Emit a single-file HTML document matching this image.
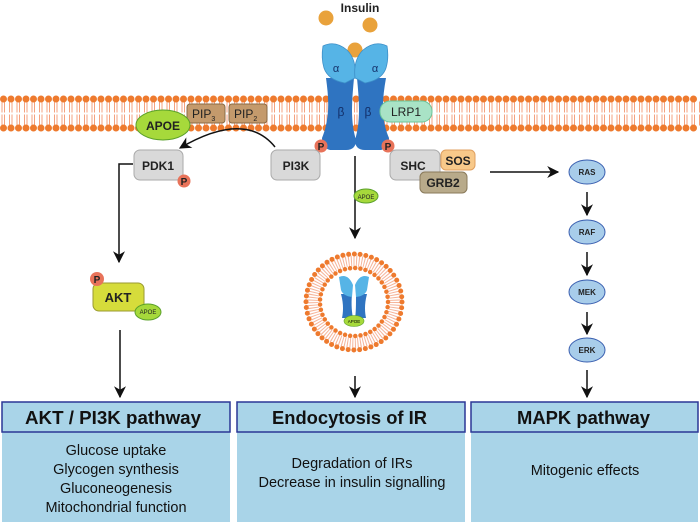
<!DOCTYPE html>
<html><head><meta charset="utf-8"><style>
body{margin:0;background:#fff}
svg{display:block;font-family:"Liberation Sans",Arial,sans-serif}
</style></head><body>
<svg width="700" height="524" viewBox="0 0 700 524" xmlns="http://www.w3.org/2000/svg">
<defs>
<marker id="ah" viewBox="0 0 10 10" refX="9" refY="5" markerWidth="12" markerHeight="12" markerUnits="userSpaceOnUse" orient="auto"><path d="M0,0 L10,5 L0,10 L3,5z" fill="#111"/></marker>
</defs>
<!-- membrane -->
<line x1="0" y1="107" x2="700" y2="107" stroke="#f4a27f" stroke-width="11" stroke-dasharray="1 1.5 1 4" stroke-dashoffset="-1.5"/>
<line x1="0" y1="120" x2="700" y2="120" stroke="#f4a27f" stroke-width="11" stroke-dasharray="1 1.5 1 4" stroke-dashoffset="-1.5"/>
<line x1="3.5" y1="99" x2="700" y2="99" stroke="#ee7a2e" stroke-width="7" stroke-linecap="round" stroke-dasharray="0 7.5"/>
<line x1="3.5" y1="128" x2="700" y2="128" stroke="#ee7a2e" stroke-width="7" stroke-linecap="round" stroke-dasharray="0 7.5"/>
<!-- insulin -->
<text x="360" y="12" font-size="12" font-weight="bold" fill="#222" text-anchor="middle">Insulin</text>
<circle cx="326" cy="18" r="7.5" fill="#e9a23b"/>
<circle cx="370" cy="25" r="7.5" fill="#e9a23b"/>
<circle cx="355" cy="50" r="7.5" fill="#e9a23b"/>
<!-- receptor beta -->
<path d="M326,78 H354 C352,100 350,120 356,140 Q356,150 346,150 H330 Q322,148 322,138 C330,118 329,100 326,78Z" fill="#2f74c1"/>
<path d="M357,78 H386 C382,100 381,120 389,138 Q389,148 381,150 H365 Q355,150 355,140 C361,120 359,100 357,78Z" fill="#2f74c1"/>
<!-- alpha -->
<path d="M323,46 Q335,40 347,50 Q357,60 355,78 L345,83 Q328,80 324,68 Q321,58 323,46Z" fill="#56b4e6" stroke="#3d8fc8" stroke-width="0.8"/>
<path d="M387,46 Q375,40 363,50 Q353,60 355,78 L365,83 Q382,80 386,68 Q389,58 387,46Z" fill="#56b4e6" stroke="#3d8fc8" stroke-width="0.8"/>
<text x="336" y="72" font-size="11" fill="#13306a" text-anchor="middle">α</text>
<text x="375" y="72" font-size="11" fill="#13306a" text-anchor="middle">α</text>
<text x="341" y="116" font-size="12" fill="#13306a" text-anchor="middle">β</text>
<text x="368" y="116" font-size="12" fill="#13306a" text-anchor="middle">β</text>
<circle cx="321" cy="146" r="6.5" fill="#e8735a"/><text x="321" y="150" font-size="10" font-weight="bold" text-anchor="middle" fill="#222">P</text>
<circle cx="388" cy="146" r="6.5" fill="#e8735a"/><text x="388" y="150" font-size="10" font-weight="bold" text-anchor="middle" fill="#222">P</text>
<!-- LRP1 -->
<rect x="380" y="101" width="52" height="21" rx="10" fill="#a9e3c6" stroke="#6bc49a"/>
<text x="406" y="116" font-size="12" text-anchor="middle" fill="#222">LRP1</text>
<!-- PIPs -->
<rect x="187" y="104" width="38" height="19" rx="3" fill="#c49a6c" stroke="#8a6a44"/>
<text x="192" y="118" font-size="12" fill="#222">PIP<tspan font-size="7" dy="3">3</tspan></text>
<rect x="229" y="104" width="38" height="19" rx="3" fill="#c49a6c" stroke="#8a6a44"/>
<text x="234" y="118" font-size="12" fill="#222">PIP<tspan font-size="7" dy="3">2</tspan></text>
<ellipse cx="163" cy="125" rx="27" ry="15" fill="#a6d93b" stroke="#5aa02a"/>
<text x="163" y="130" font-size="12" font-weight="bold" text-anchor="middle" fill="#222">APOE</text>
<!-- curved arrow -->
<path d="M275,147 Q245,110 180,148" fill="none" stroke="#111" stroke-width="1.5" marker-end="url(#ah)"/>
<!-- PDK1 -->
<rect x="134" y="150" width="49" height="30" rx="6" fill="#d9d9d9" stroke="#aaa"/>
<text x="158" y="170" font-size="12" font-weight="bold" text-anchor="middle" fill="#222">PDK1</text>
<circle cx="184" cy="181" r="6.5" fill="#e8735a"/><text x="184" y="185" font-size="10" font-weight="bold" text-anchor="middle" fill="#222">P</text>
<path d="M133,164 H119 V262" fill="none" stroke="#111" stroke-width="1.5" marker-end="url(#ah)"/>
<!-- PI3K -->
<rect x="271" y="150" width="49" height="30" rx="6" fill="#d9d9d9" stroke="#aaa"/>
<text x="296" y="170" font-size="12" font-weight="bold" text-anchor="middle" fill="#222">PI3K</text>
<!-- SHC -->
<rect x="390" y="150" width="50" height="30" rx="6" fill="#d9d9d9" stroke="#aaa"/>
<text x="413" y="170" font-size="12" font-weight="bold" text-anchor="middle" fill="#222">SHC</text>
<rect x="441" y="150" width="34" height="20" rx="5" fill="#f8c98a" stroke="#e0a060"/>
<text x="458" y="165" font-size="12" font-weight="bold" text-anchor="middle" fill="#222">SOS</text>
<rect x="420" y="172" width="47" height="21" rx="5" fill="#b8aa8a" stroke="#8a7a5a"/>
<text x="443" y="187" font-size="12" font-weight="bold" text-anchor="middle" fill="#222">GRB2</text>
<!-- MAPK -->
<line x1="490" y1="172" x2="558" y2="172" stroke="#111" stroke-width="1.5" marker-end="url(#ah)"/>
<g font-size="8" font-weight="bold" text-anchor="middle" fill="#222">
<ellipse cx="587" cy="172" rx="18" ry="12" fill="#a8cdea" stroke="#3a5fb0"/><text x="587" y="175">RAS</text>
<ellipse cx="587" cy="232" rx="18" ry="12" fill="#a8cdea" stroke="#3a5fb0"/><text x="587" y="235">RAF</text>
<ellipse cx="587" cy="292" rx="18" ry="12" fill="#a8cdea" stroke="#3a5fb0"/><text x="587" y="295">MEK</text>
<ellipse cx="587" cy="350" rx="18" ry="12" fill="#a8cdea" stroke="#3a5fb0"/><text x="587" y="353">ERK</text>
</g>
<g stroke="#111" stroke-width="1.5" marker-end="url(#ah)">
<line x1="587" y1="192" x2="587" y2="215"/>
<line x1="587" y1="252" x2="587" y2="275"/>
<line x1="587" y1="312" x2="587" y2="334"/>
<line x1="587" y1="370" x2="587" y2="397"/>
<line x1="355" y1="156" x2="355" y2="238"/>
<line x1="355" y1="376" x2="355" y2="397"/>
<line x1="120" y1="330" x2="120" y2="397"/>
</g>
<ellipse cx="366" cy="196" rx="12" ry="7" fill="#a6d93b" stroke="#5aa02a"/>
<text x="366" y="199" font-size="6" text-anchor="middle" fill="#222">APOE</text>
<!-- vesicle -->
<circle cx="354" cy="302" r="41" fill="none" stroke="#f6b49a" stroke-width="11" stroke-dasharray="1 1.6"/>
<circle cx="354" cy="302" r="48" fill="none" stroke="#ee7a2e" stroke-width="5" stroke-linecap="round" stroke-dasharray="0 5.8"/>
<circle cx="354" cy="302" r="34" fill="none" stroke="#ee7a2e" stroke-width="4.5" stroke-linecap="round" stroke-dasharray="0 5.2"/>
<path d="M341,294 H352 C351,305 352,313 353,318 H342 C343,313 344,305 341,294Z" fill="#2f74c1"/>
<path d="M356,294 H367 C364,305 365,313 366,318 H355 C356,313 356,305 356,294Z" fill="#2f74c1"/>
<path d="M339,277 Q348,273 353,285 L352,297 Q343,296 341,290Z" fill="#56b4e6"/>
<path d="M369,277 Q360,273 355,285 L356,297 Q365,296 367,290Z" fill="#56b4e6"/>
<ellipse cx="354" cy="321" rx="10" ry="5.5" fill="#a6d93b" stroke="#5aa02a" stroke-width="0.6"/>
<text x="354" y="323" font-size="4.5" text-anchor="middle">APOE</text>
<!-- AKT -->
<rect x="93" y="283" width="51" height="28" rx="6" fill="#d6dc3b" stroke="#9a9a30"/>
<text x="118" y="302" font-size="13" font-weight="bold" text-anchor="middle" fill="#222">AKT</text>
<circle cx="97" cy="279" r="7" fill="#e8735a"/><text x="97" y="283" font-size="10" font-weight="bold" text-anchor="middle" fill="#222">P</text>
<ellipse cx="148" cy="312" rx="13" ry="8" fill="#a6d93b" stroke="#5aa02a"/>
<text x="148" y="314" font-size="6" text-anchor="middle" fill="#222">APOE</text>
<!-- bottom boxes -->
<g fill="#a9d4e8">
<rect x="2" y="432" width="228" height="90"/>
<rect x="237" y="432" width="228" height="90"/>
<rect x="471" y="432" width="227" height="90"/>
</g>
<g fill="#a9d4e8" stroke="#2b3796" stroke-width="1.5">
<rect x="2" y="402" width="228" height="30"/>
<rect x="237" y="402" width="228" height="30"/>
<rect x="471" y="402" width="227" height="30"/>
</g>
<g font-size="18" font-weight="bold" fill="#111">
<text x="25" y="424" textLength="176" lengthAdjust="spacingAndGlyphs">AKT / PI3K pathway</text>
<text x="272" y="424" textLength="155" lengthAdjust="spacingAndGlyphs">Endocytosis of IR</text>
<text x="517" y="424" textLength="133" lengthAdjust="spacingAndGlyphs">MAPK pathway</text>
</g>
<g font-size="14.5" text-anchor="middle" fill="#111">
<text x="116" y="455">Glucose uptake</text>
<text x="116" y="474">Glycogen synthesis</text>
<text x="116" y="493">Gluconeogenesis</text>
<text x="116" y="512">Mitochondrial function</text>
<text x="352" y="468">Degradation of IRs</text>
<text x="352" y="487">Decrease in insulin signalling</text>
<text x="585" y="475">Mitogenic effects</text>
</g>
</svg>
</body></html>
